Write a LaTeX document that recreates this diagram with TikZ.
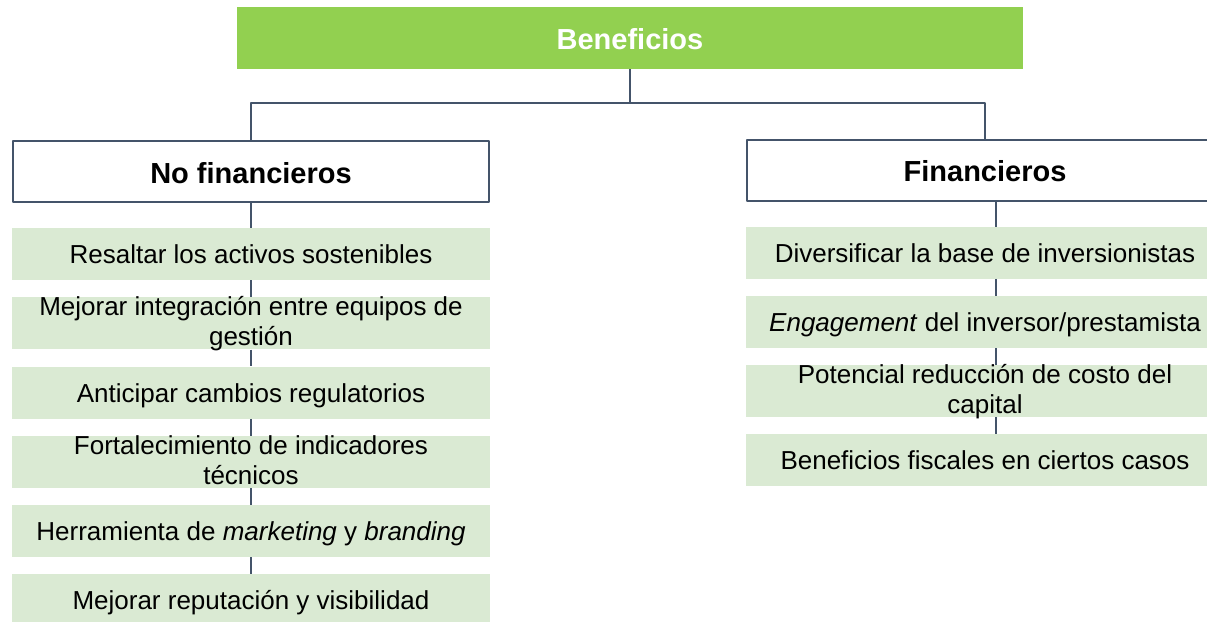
\documentclass[tikz,border=0pt]{standalone}
\usepackage{fontspec}
\setmainfont{Liberation Sans}
\usetikzlibrary{positioning}
\definecolor{leafgreen}{RGB}{146,208,80}
\definecolor{palegreen}{RGB}{218,234,211}
\definecolor{slateline}{RGB}{68,84,106}

\begin{document}
\begin{tikzpicture}[
                line join=bevel,
                node distance=16.8pt,
                titlenode/.style={fill=leafgreen, text=white, font=\fontsize{29}{34}\selectfont\bfseries, minimum width=786pt, minimum height=62pt, inner sep=0pt, text height=22pt, text depth=0pt},
                groupnode/.style={draw=slateline, line width=2pt, fill=white, font=\fontsize{29}{34}\selectfont\bfseries, minimum width=476pt, minimum height=61pt, inner sep=0pt, text height=23pt, text depth=0pt},
                itemnode/.style={fill=palegreen, font=\fontsize{26}{30}\selectfont, minimum width=478pt, minimum height=52pt, inner sep=0pt, align=center, text height=19pt, text depth=0pt},
                twolinenode/.style={itemnode, text height=48pt, text depth=3pt},
                link/.style={draw=slateline, line width=1.5pt}
                ]
                %% Frame
                \useasboundingbox (0pt, 0pt) rectangle (1207pt, -621pt);
                \clip (0pt, 0pt) rectangle (1207pt, -621pt);

                %% Top and groups
                \node[titlenode] (benef) at (630pt, -38pt) {Beneficios};
                \node[groupnode] (nofin) at (251pt, -171.5pt) {No financieros};
                \node[groupnode] (fin) at (985pt, -170pt) {Financieros};

                \coordinate (split) at (630pt, -103pt);
                \draw[link] (benef.south) -- (split) -| (nofin.north);
                \draw[link] (split) -| (fin.north);

                        % Left column
                        \node[itemnode, below=25pt of nofin] (nf1) {Resaltar los activos sostenibles};
                        \node[twolinenode, below=of nf1] (nf2) {Mejorar integración entre equipos de\\gestión};
                        \node[itemnode, below=of nf2] (nf3) {Anticipar cambios regulatorios};
                        \node[twolinenode, below=of nf3] (nf4) {Fortalecimiento de indicadores\\técnicos};
                        \node[itemnode, below=of nf4] (nf5) {Herramienta de \textit{marketing} y \textit{branding}};
                        \node[itemnode, below=of nf5] (nf6) {Mejorar reputación y visibilidad};

                        \foreach \a/\b in {nofin/nf1, nf1/nf2, nf2/nf3, nf3/nf4, nf4/nf5, nf5/nf6} {
                            \draw[link] (\a.south) -- (\b.north);
                        }

                        % Right column
                        \node[itemnode, below=25pt of fin] (f1) {Diversificar la base de inversionistas};
                        \node[itemnode, below=of f1] (f2) {\textit{Engagement} del inversor/prestamista};
                        \node[twolinenode, below=of f2] (f3) {Potencial reducción de costo del\\capital};
                        \node[itemnode, below=of f3] (f4) {Beneficios fiscales en ciertos casos};

                        \foreach \a/\b in {fin/f1, f1/f2, f2/f3, f3/f4} {
                            \draw[link] ([xshift=11pt]\a.south) -- ([xshift=11pt]\b.north);
                        }
\end{tikzpicture}
\end{document}
